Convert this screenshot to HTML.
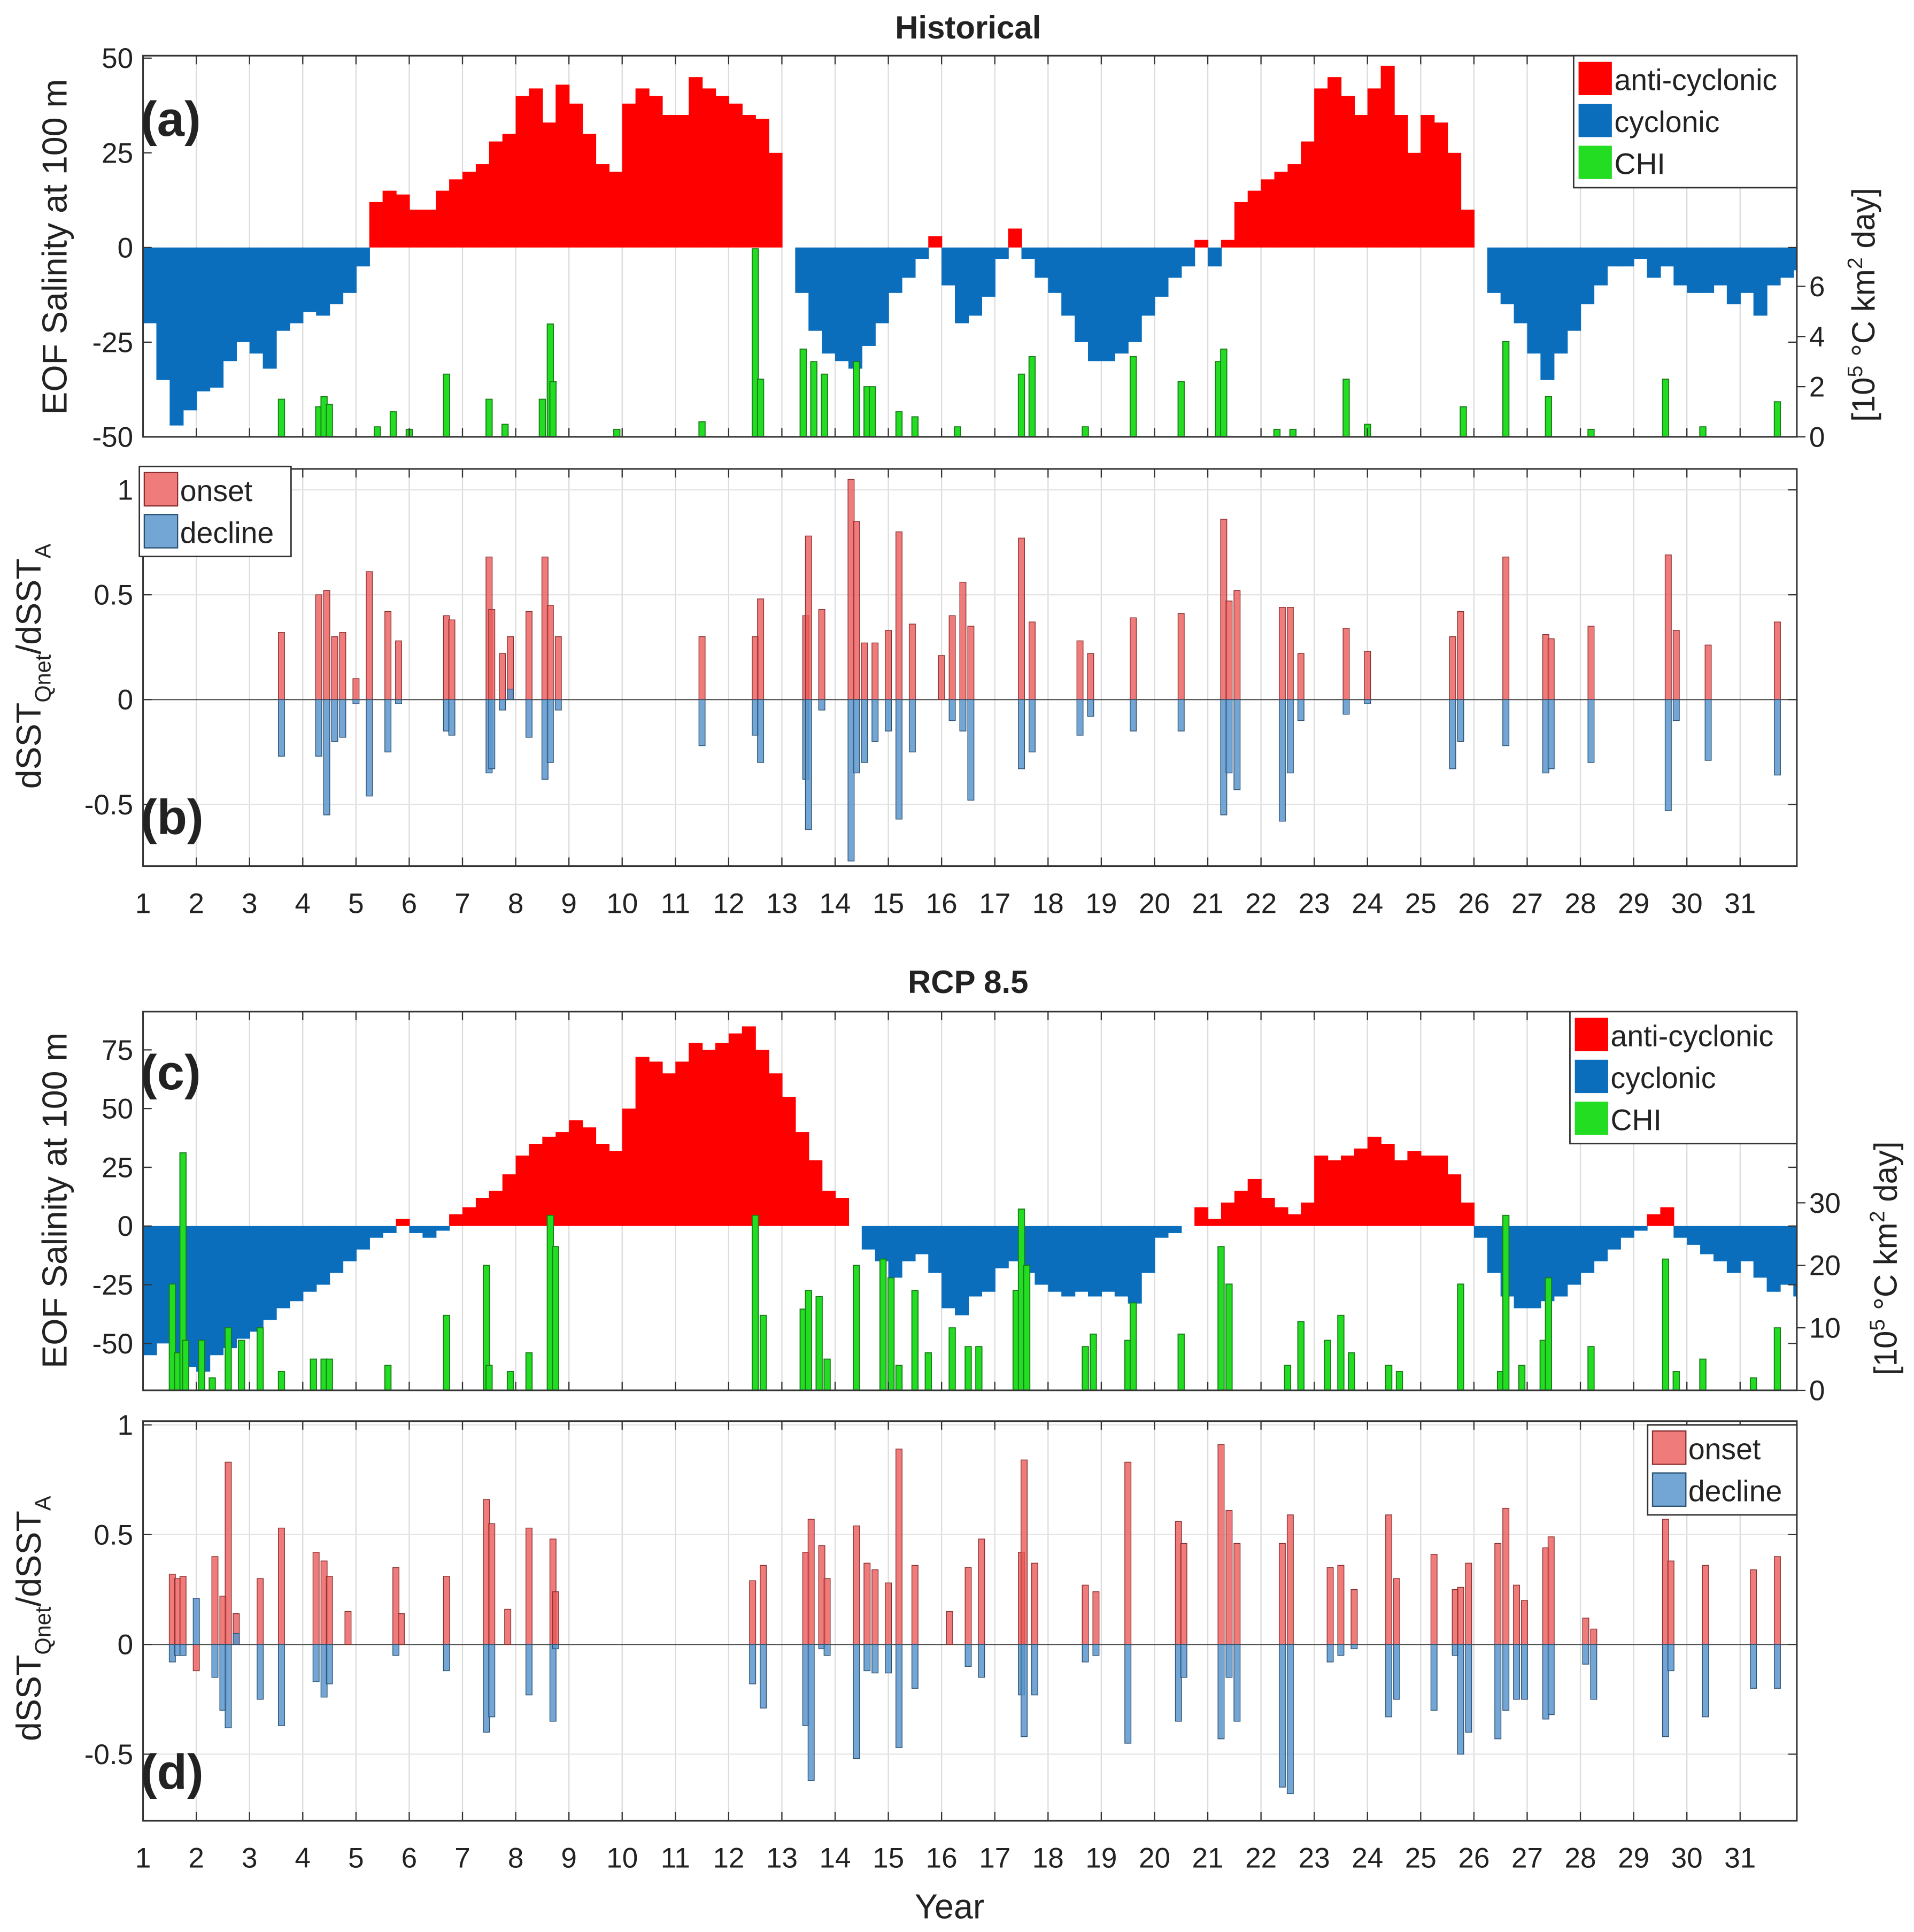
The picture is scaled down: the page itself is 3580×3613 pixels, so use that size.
<!DOCTYPE html>
<html><head><meta charset="utf-8"><style>
html,body{margin:0;padding:0;background:#fff}
svg{display:block}
text{font-family:"Liberation Sans",sans-serif;fill:#222}
</style></head><body>
<svg id="fig" width="3580" height="3613" viewBox="0 0 1552 1566" xmlns="http://www.w3.org/2000/svg">
<rect x="0" y="0" width="1552" height="1566" fill="#fff"/>
<defs id="defs"></defs>
<g id="layer"></g>
</svg>
<script>
// ---- data ----
const years = [];
const histEOF = [-20,-35,-47,-43,-38,-37,-30,-25,-28,-32,-22,-20,-17,-18,-15,-12,-5,12,15,14,10,10,15,18,20,22,28,30,40,42,33,43,38,30,22,20,38,42,40,35,35,45,42,40,38,35,34,25,0,-12,-22,-28,-30,-32,-26,-20,-12,-8,-3,3,-10,-20,-18,-13,-3,5,-3,-8,-12,-18,-25,-30,-30,-28,-25,-18,-13,-8,-5,2,-5,2,12,15,18,20,22,28,42,45,40,35,42,48,35,25,35,33,25,10,0,-12,-15,-20,-28,-35,-28,-22,-15,-10,-5,-5,-3,-8,-5,-10,-12,-12,-10,-15,-12,-18,-10,-8,-6];
const rcpEOF = [-55,-50,-55,-60,-62,-55,-52,-48,-45,-40,-35,-32,-28,-25,-20,-15,-10,-5,-3,3,-3,-5,-2,5,8,12,15,22,30,35,38,40,45,42,35,32,50,72,70,65,70,78,75,78,82,85,75,65,55,40,28,15,12,0,-10,-15,-22,-15,-12,-20,-35,-38,-30,-28,-18,-15,-20,-25,-28,-30,-28,-30,-28,-30,-33,-20,-5,-3,0,8,3,10,15,20,12,8,5,10,30,28,30,33,38,35,28,32,30,30,22,10,-5,-20,-30,-35,-35,-32,-30,-25,-20,-15,-10,-5,-2,5,8,-5,-8,-12,-15,-20,-15,-22,-28,-25,-30];
for (let i = 0; i < histEOF.length; i++) years.push(1 + i * 0.25);
const histChiX = [3.6,4.3,4.4,4.5,5.7,6.7,7.5,8.5,8.65,8.7,11.5,12.5,12.6,13.4,13.6,13.8,14.4,14.6,14.7,15.2,15.5,17.5,17.7,19.6,20.5,21.2,21.3,22.6,23.6,24,25.8,26.6,27.4,28.2,29.6,30.3,31.7,5.4,6.0,7.8,9.9,16.3,18.7,22.3];
const histChiV = [1.5,1.2,1.6,1.3,1,2.5,1.5,1.5,4.5,2.2,0.6,7.5,2.3,3.5,3,2.5,3,2,2,1,0.8,2.5,3.2,3.2,2.2,3,3.5,0.3,2.3,0.5,1.2,3.8,1.6,0.3,2.3,0.4,1.4,0.4,0.3,0.5,0.3,0.4,0.4,0.3];
const histOX = [3.6,4.3,4.45,4.6,4.75,5,5.25,5.6,5.8,6.7,6.8,7.5,7.55,7.75,7.9,8.25,8.55,8.65,8.8,11.5,12.5,12.6,13.45,13.5,13.75,14.3,14.4,14.55,14.75,15.0,15.2,15.45,16.0,16.2,16.4,16.55,17.5,17.7,18.6,18.8,19.6,20.5,21.3,21.4,21.55,22.4,22.55,22.75,23.6,24.0,25.6,25.75,26.6,27.35,27.45,28.2,29.65,29.8,30.4,31.7];
const histOnset = [0.32,0.5,0.52,0.3,0.32,0.1,0.61,0.42,0.28,0.4,0.38,0.68,0.43,0.22,0.3,0.42,0.68,0.45,0.3,0.3,0.3,0.48,0.4,0.78,0.43,1.05,0.85,0.27,0.27,0.33,0.8,0.36,0.21,0.4,0.56,0.35,0.77,0.37,0.28,0.22,0.39,0.41,0.86,0.47,0.52,0.44,0.44,0.22,0.34,0.23,0.3,0.42,0.68,0.31,0.29,0.35,0.69,0.33,0.26,0.37];
const histDecline = [-0.27,-0.27,-0.55,-0.2,-0.18,-0.02,-0.46,-0.25,-0.02,-0.15,-0.17,-0.35,-0.33,-0.05,0.05,-0.18,-0.38,-0.3,-0.05,-0.22,-0.17,-0.3,-0.38,-0.62,-0.05,-0.77,-0.35,-0.3,-0.2,-0.15,-0.57,-0.25,0,-0.1,-0.15,-0.48,-0.33,-0.25,-0.17,-0.08,-0.15,-0.15,-0.55,-0.35,-0.43,-0.58,-0.35,-0.1,-0.07,-0.02,-0.33,-0.2,-0.22,-0.35,-0.33,-0.3,-0.53,-0.1,-0.29,-0.36];
const rcpChiX = [1.55,1.65,1.75,1.8,2.1,2.3,2.6,2.85,3.2,3.6,4.2,4.4,4.5,5.6,6.7,7.45,7.5,7.9,8.25,8.65,8.75,12.5,12.65,13.4,13.5,13.7,13.85,14.4,14.9,15.05,15.2,15.5,15.75,16.2,16.5,16.7,17.4,17.5,17.6,18.7,18.85,19.5,19.6,20.5,21.25,21.4,22.5,22.75,23.25,23.5,23.7,24.4,24.6,25.75,26.5,26.6,26.9,27.3,27.4,28.2,29.6,29.8,30.3,31.25,31.7];
const rcpChiV = [17,6,38,8,8,2,10,8,10,3,5,5,5,4,12,20,4,3,6,28,23,28,12,13,16,15,5,20,21,18,4,16,6,10,7,7,16,29,20,7,9,8,14,9,23,17,4,11,8,12,6,4,3,17,3,28,4,8,18,7,21,3,5,2,10];
const rcpOX = [1.55,1.65,1.75,2.0,2.35,2.5,2.6,2.75,3.2,3.6,4.25,4.4,4.5,4.85,5.75,5.85,6.7,7.45,7.55,7.85,8.25,8.7,8.75,12.45,12.65,13.45,13.55,13.75,13.85,14.4,14.6,14.75,15.0,15.2,15.5,16.15,16.5,16.75,17.5,17.55,17.75,18.7,18.9,19.5,20.45,20.55,21.25,21.4,21.55,22.4,22.55,23.3,23.5,23.75,24.4,24.55,25.25,25.65,25.75,25.9,26.45,26.6,26.8,26.95,27.35,27.45,28.1,28.25,29.6,29.7,30.35,31.25,31.7];
const rcpOnset = [0.32,0.3,0.31,-0.12,0.4,0.22,0.83,0.14,0.3,0.53,0.42,0.38,0.31,0.15,0.35,0.14,0.31,0.66,0.55,0.16,0.53,0.48,0.24,0.29,0.36,0.42,0.57,0.45,0.3,0.54,0.37,0.34,0.28,0.89,0.36,0.15,0.35,0.48,0.42,0.84,0.37,0.27,0.24,0.83,0.56,0.46,0.91,0.61,0.46,0.46,0.59,0.35,0.36,0.25,0.59,0.3,0.41,0.25,0.26,0.37,0.46,0.62,0.27,0.2,0.44,0.49,0.12,0.07,0.57,0.38,0.36,0.34,0.4];
const rcpDecline = [-0.08,-0.05,-0.05,0.21,-0.15,-0.3,-0.38,0.05,-0.25,-0.37,-0.17,-0.24,-0.18,0,-0.05,0,-0.12,-0.4,-0.33,0,-0.23,-0.35,-0.02,-0.18,-0.29,-0.37,-0.62,-0.02,-0.05,-0.52,-0.12,-0.13,-0.13,-0.47,-0.2,0,-0.1,-0.15,-0.23,-0.42,-0.23,-0.08,-0.05,-0.45,-0.35,-0.15,-0.43,-0.15,-0.35,-0.65,-0.68,-0.08,-0.05,-0.02,-0.33,-0.25,-0.3,-0.05,-0.5,-0.4,-0.43,-0.3,-0.25,-0.25,-0.34,-0.32,-0.09,-0.25,-0.42,-0.12,-0.33,-0.2,-0.2];
const yearTicks = [1,2,3,4,5,6,7,8,9,10,11,12,13,14,15,16,17,18,19,20,21,22,23,24,25,26,27,28,29,30,31];
const eofTicksA = [-50,-25,0,25,50];
const eofTicksC = [-50,-25,0,25,50,75];
const chiTicksA = [0,2,4,6];
const chiTicksC = [0,10,20,30];
const ratioTicks = [-0.5,0,0.5,1];

// ---- helpers ----
const NS = "http://www.w3.org/2000/svg";
const layer = document.getElementById('layer');
const defs = document.getElementById('defs');
function mk(tag, attrs, parent, txt) {
  const e = document.createElementNS(NS, tag);
  for (const k in attrs) e.setAttribute(k, attrs[k]);
  if (txt !== undefined) e.textContent = txt;
  (parent || layer).appendChild(e);
  return e;
}
const X0 = 116, X1 = 1457;
function xs(yr) { return X0 + (yr - 1) * (1411 - 116) / 30; }
function lin(v0, p0, v1, p1) { return v => p0 + (v - v0) * (p1 - p0) / (v1 - v0); }
let clipN = 0;
function clipGroup(top, bot, g) {
  const id = 'clip' + (clipN++);
  const cp = mk('clipPath', {id: id}, defs);
  mk('rect', {x: X0, y: top, width: X1 - X0, height: bot - top}, cp);
  return mk('g', {'clip-path': `url(#${id})`}, g);
}

function frame(top, bot, name) {
  const g = mk('g', {});
  
  
  yearTicks.forEach(t => { mk('line', {x1: xs(t), x2: xs(t), y1: top, y2: bot, stroke: '#dcdcdc', 'stroke-width': 1}, g); });
  return g;
}
function border(top, bot, g) {
  mk('rect', {x: X0, y: top, width: X1 - X0, height: bot - top, fill: 'none', stroke: '#333', 'stroke-width': 1.3}, g);
  yearTicks.forEach(t => {
    mk('line', {x1: xs(t), x2: xs(t), y1: bot, y2: bot - 7, stroke: '#333'}, g);
    mk('line', {x1: xs(t), x2: xs(t), y1: top, y2: top + 7, stroke: '#333'}, g);
  });
}
function yTicks(ticks, sc, g, side, fmt) {
  ticks.forEach(t => {
    const y = sc(t);
    if (side === 'left') {
      mk('line', {x1: X0, x2: X0 + 7, y1: y, y2: y, stroke: '#333'}, g);
      mk('line', {x1: X1, x2: X1 - 7, y1: y, y2: y, stroke: '#333'}, g);
      mk('text', {x: X0 - 8, y: y + 8, 'text-anchor': 'end', 'font-size': 23}, g, fmt ? fmt(t) : t);
    } else {
      mk('line', {x1: X1, x2: X1 + 7, y1: y, y2: y, stroke: '#333'}, g);
      mk('text', {x: X1 + 10, y: y + 8, 'text-anchor': 'start', 'font-size': 23}, g, t);
    }
  });
}
function xLabels(y, g) {
  yearTicks.forEach(t => { mk('text', {x: xs(t), y: y, 'text-anchor': 'middle', 'font-size': 23}, g, t); });
}

function eofPanel(top, bot, data, eofSc, chiX, chiV, chiSc, ticksE, ticksC, name) {
  const g = frame(top, bot, name);
  const cg = clipGroup(top, bot, g);
  const w = (xs(1.25) - xs(1));
  const z = eofSc(0);
  data.forEach((v, i) => {
    const x = xs(years[i]);
    const y = eofSc(v);
    const r = mk('rect', {x: x, y: Math.min(y, z), width: w + 0.5, height: Math.abs(y - z), fill: v > 0 ? '#ff0000' : '#0a6ebd'}, cg);
    
    
  });
  chiX.forEach((xv, i) => {
    const y = chiSc(chiV[i]);
    const r = mk('rect', {x: xs(xv) - 2.5, y: y, width: 5, height: bot - y, fill: '#22dd22', stroke: '#1a7a1a', 'stroke-width': 0.8}, cg);
    
    
  });
  border(top, bot, g);
  yTicks(ticksE, eofSc, g, 'left');
  yTicks(ticksC, chiSc, g, 'right');
  return g;
}
function ratioPanel(top, bot, xsArr, on, de, sc, name, gridTicks) {
  const g = frame(top, bot, name);
  gridTicks.forEach(t => { mk('line', {x1: X0, x2: X1, y1: sc(t), y2: sc(t), stroke: '#e4e4e4'}, g); });
  const z = sc(0);
  mk('line', {x1: X0, x2: X1, y1: z, y2: z, stroke: '#555', 'stroke-width': 1}, g);
  const cg = clipGroup(top, bot, g);
  xsArr.forEach((xv, i) => {
    let y = sc(on[i]);
    const r = mk('rect', {x: xs(xv) - 2.5, y: Math.min(y, z), width: 5, height: Math.abs(y - z), fill: 'rgba(235,90,90,0.8)', stroke: '#8a3030', 'stroke-width': 0.6}, cg);
    
    
    y = sc(de[i]);
    const b = mk('rect', {x: xs(xv) - 2.5, y: Math.min(y, z), width: 5, height: Math.abs(y - z), fill: 'rgba(90,150,205,0.85)', stroke: '#2c5070', 'stroke-width': 0.6}, cg);
    
    
  });
  border(top, bot, g);
  yTicks(ratioTicks, sc, g, 'left', t => t === 0.5 ? '0.5' : t === -0.5 ? '-0.5' : t);
  return g;
}
function legend(x, y, w, items, name, fs) {
  const g = mk('g', {});
  
  
  const h = items.length * 34 + 5;
  mk('rect', {x: x, y: y, width: w, height: h, fill: '#fff', stroke: '#333', 'stroke-width': 1.2}, g);
  items.forEach((it, i) => {
    mk('rect', {x: x + 4, y: y + 5 + i * 34, width: 27, height: 27, fill: it[1], stroke: it[2] || 'none'}, g);
    mk('text', {x: x + 33, y: y + 28 + i * 34, 'font-size': fs}, g, it[0]);
  });
}
function rotLabel(x, y, g, content, size) {
  const t = mk('text', {x: x, y: y, 'text-anchor': 'middle', 'font-size': size, transform: `rotate(-90 ${x} ${y})`}, g);
  t.innerHTML = content;
  return t;
}

// ---- panels ----
const scA = lin(-50, 354, 50, 47), chiA = lin(0, 354, 6, 232);
const scB = lin(0, 567, 1, 397);
const scC = lin(-50, 1089, 75, 851), chiC = lin(0, 1127, 30, 975);
const scD = lin(0, 1333, 1, 1155);

const ga = eofPanel(45, 354, histEOF, scA, histChiX, histChiV, chiA, eofTicksA, chiTicksA, 'panel-a');
const gb = ratioPanel(380, 702, histOX, histOnset, histDecline, scB, 'panel-b', [-0.5, 0.5, 1]);
xLabels(740, gb);
const gc = eofPanel(820, 1127, rcpEOF, scC, rcpChiX, rcpChiV, chiC, eofTicksC, chiTicksC, 'panel-c');
const gd = ratioPanel(1152, 1476, rcpOX, rcpOnset, rcpDecline, scD, 'panel-d', [-0.5, 0.5, 1]);
xLabels(1514, gd);

legend(1276, 45, 181, [['anti-cyclonic', '#ff0000'], ['cyclonic', '#0a6ebd'], ['CHI', '#22dd22']], 'legend-a', 24);
legend(113, 378, 123, [['onset', 'rgba(235,90,90,0.8)', '#8a3030'], ['decline', 'rgba(90,150,205,0.85)', '#2c5070']], 'legend-b', 24);
legend(1273, 820, 184, [['anti-cyclonic', '#ff0000'], ['cyclonic', '#0a6ebd'], ['CHI', '#22dd22']], 'legend-c', 24);
legend(1336, 1155, 121, [['onset', 'rgba(235,90,90,0.8)', '#8a3030'], ['decline', 'rgba(90,150,205,0.85)', '#2c5070']], 'legend-d', 24);

// labels
let t;
t = mk('text', {x: 785, y: 31, 'text-anchor': 'middle', 'font-size': 26, 'font-weight': 'bold'}, null, 'Historical');
 
t = mk('text', {x: 785, y: 805, 'text-anchor': 'middle', 'font-size': 26, 'font-weight': 'bold'}, null, 'RCP 8.5');
 
t = mk('text', {x: 770, y: 1555, 'text-anchor': 'middle', 'font-size': 28}, null, 'Year');
 
[['(a)', 114, 110], ['(b)', 114, 676], ['(c)', 114, 883], ['(d)', 114, 1450]].forEach(p => {
  const e = mk('text', {x: p[1], y: p[2], 'font-size': 40, 'font-weight': 'bold', fill: '#111'}, null, p[0]);
  
  
});
t = rotLabel(54, 200, layer, 'EOF Salinity at 100 m', 28);  
t = rotLabel(54, 973, layer, 'EOF Salinity at 100 m', 28);  
const ratioLbl = 'dSST<tspan font-size="18" dy="8">Qnet</tspan><tspan dy="-8">/dSST</tspan><tspan font-size="18" dy="8">A</tspan>';
t = rotLabel(33, 540, layer, ratioLbl, 28);  
t = rotLabel(33, 1312, layer, ratioLbl, 28);  
const rLbl = '[10<tspan font-size="17" dy="-10">5</tspan><tspan dy="10"> °C km</tspan><tspan font-size="17" dy="-10">2</tspan><tspan dy="10"> day]</tspan>';
t = rotLabel(1520, 247, layer, rLbl, 26);  
t = rotLabel(1538, 1020, layer, rLbl, 26);  
</script>
</body></html>
